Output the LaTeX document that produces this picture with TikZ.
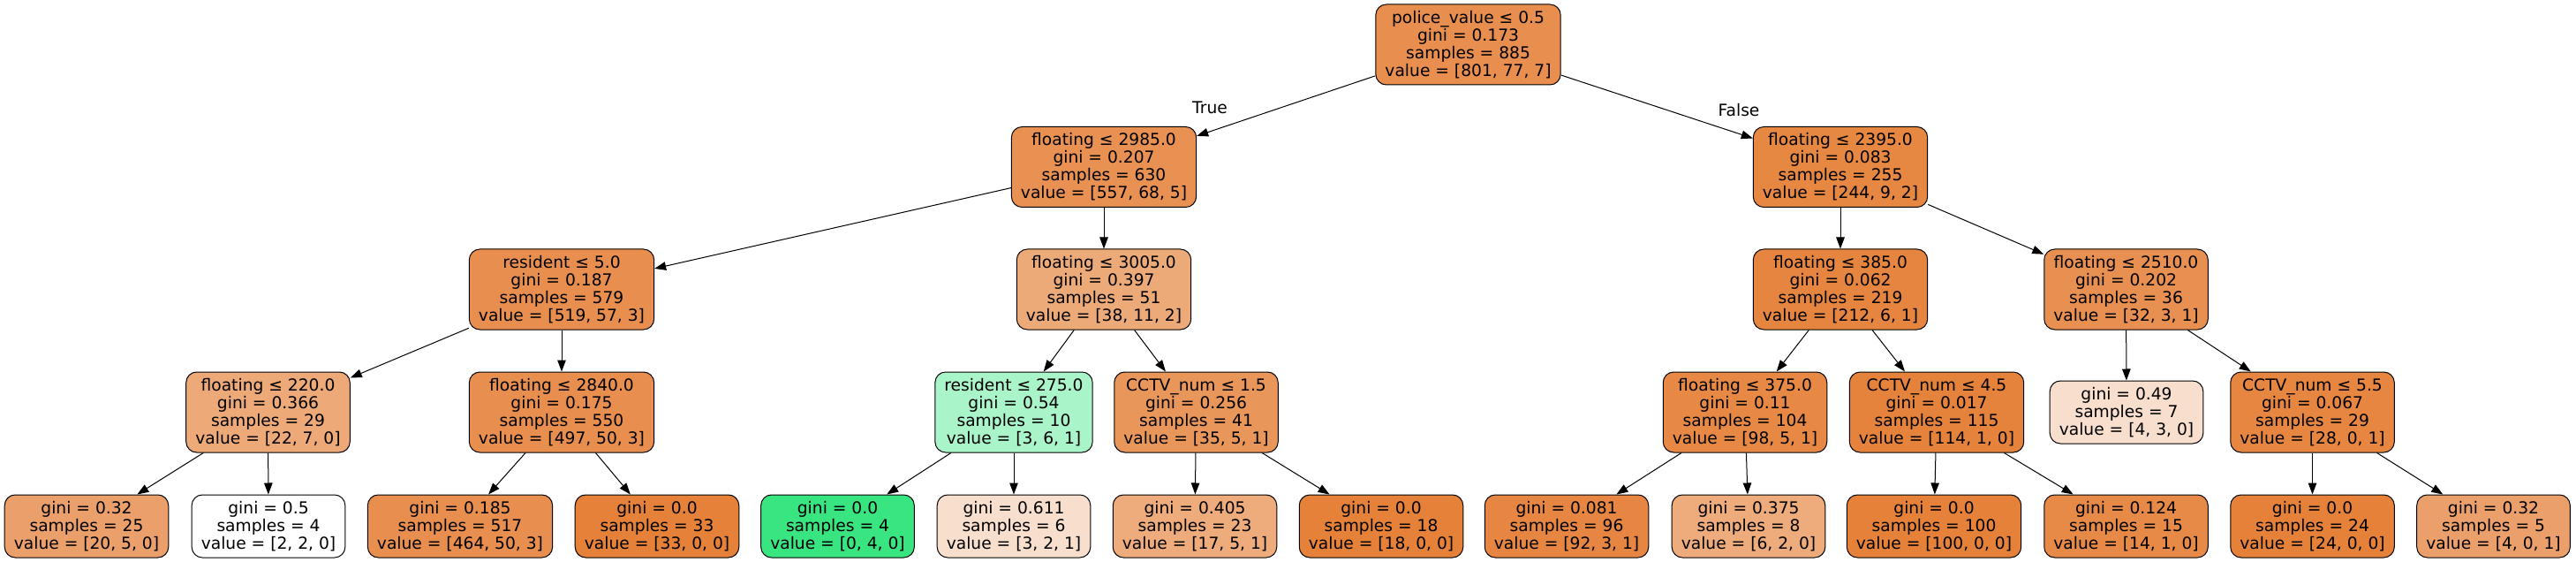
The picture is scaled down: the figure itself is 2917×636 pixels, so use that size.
\documentclass[tikz,border=0pt]{standalone}
\usepackage{fontspec}
\setmainfont{DejaVu Sans}
\usepackage{xcolor}
\usepackage{tikz}
\usetikzlibrary{arrows.meta}
\definecolor{classorange}{RGB}{229,129,57}
\definecolor{classgreen}{RGB}{57,229,129}

\begin{document}
\begin{tikzpicture}[x=1pt,y=-1pt,
    split/.style={draw,rounded corners=12pt,line width=1pt,align=center,
        inner xsep=10.6pt,inner ysep=5.3pt,minimum height=91pt,
        font=\fontsize{18.67pt}{20pt}\selectfont},
    leaf/.style={split,minimum height=71pt},
    edge/.style={line width=1pt,-{Triangle[length=13pt,width=9.5pt]}}]
                \useasboundingbox (0,0) rectangle (2917,636);
                % Level 0 and 1
                \node[split,fill=classorange!89.6!white] (n0) at (1662.5,50.5)
                    {police\_value ≤ 0.5\\gini = 0.173\\samples = 885\\value = [801, 77, 7]};
                \node[split,fill=classorange!87!white] (n1) at (1250,189)
                    {floating ≤ 2985.0\\gini = 0.207\\samples = 630\\value = [557, 68, 5]};
                \node[split,fill=classorange!95.5!white] (n16) at (2084,189)
                    {floating ≤ 2395.0\\gini = 0.083\\samples = 255\\value = [244, 9, 2]};
                % Level 2
                \node[split,fill=classorange!88.5!white] (n2) at (636,327.5)
                    {resident ≤ 5.0\\gini = 0.187\\samples = 579\\value = [519, 57, 3]};
                \node[split,fill=classorange!67.5!white] (n9) at (1250,327.5)
                    {floating ≤ 3005.0\\gini = 0.397\\samples = 51\\value = [38, 11, 2]};
                \node[split,fill=classorange!96.7!white] (n17) at (2084,327.5)
                    {floating ≤ 385.0\\gini = 0.062\\samples = 219\\value = [212, 6, 1]};
                \node[split,fill=classorange!87.9!white] (n24) at (2407.5,327.5)
                    {floating ≤ 2510.0\\gini = 0.202\\samples = 36\\value = [32, 3, 1]};
                % Level 3
                \node[split,fill=classorange!68.2!white] (n3) at (303.5,466.5)
                    {floating ≤ 220.0\\gini = 0.366\\samples = 29\\value = [22, 7, 0]};
                \node[split,fill=classorange!89.4!white] (n6) at (636,466.5)
                    {floating ≤ 2840.0\\gini = 0.175\\samples = 550\\value = [497, 50, 3]};
                \node[split,fill=classgreen!42.9!white] (n10) at (1148,466.5)
                    {resident ≤ 275.0\\gini = 0.54\\samples = 10\\value = [3, 6, 1]};
                \node[split,fill=classorange!83.3!white] (n13) at (1354.5,466.5)
                    {CCTV\_num ≤ 1.5\\gini = 0.256\\samples = 41\\value = [35, 5, 1]};
                \node[split,fill=classorange!93.9!white] (n18) at (1976,466.5)
                    {floating ≤ 375.0\\gini = 0.11\\samples = 104\\value = [98, 5, 1]};
                \node[split,fill=classorange!99.1!white] (n21) at (2193,466.5)
                    {CCTV\_num ≤ 4.5\\gini = 0.017\\samples = 115\\value = [114, 1, 0]};
                \node[leaf,fill=classorange!25!white] (n25) at (2408,466.5)
                    {gini = 0.49\\samples = 7\\value = [4, 3, 0]};
                \node[split,fill=classorange!96.4!white] (n26) at (2618.5,466.5)
                    {CCTV\_num ≤ 5.5\\gini = 0.067\\samples = 29\\value = [28, 0, 1]};
                % Leaves
                \node[leaf,fill=classorange!75!white] (n4) at (98,595.5)
                    {gini = 0.32\\samples = 25\\value = [20, 5, 0]};
                \node[leaf,fill=white] (n5) at (304,595.5)
                    {gini = 0.5\\samples = 4\\value = [2, 2, 0]};
                \node[leaf,fill=classorange!88.6!white] (n7) at (521,595.5)
                    {gini = 0.185\\samples = 517\\value = [464, 50, 3]};
                \node[leaf,fill=classorange] (n8) at (744,595.5)
                    {gini = 0.0\\samples = 33\\value = [33, 0, 0]};
                \node[leaf,fill=classgreen] (n11) at (948.5,595.5)
                    {gini = 0.0\\samples = 4\\value = [0, 4, 0]};
                \node[leaf,fill=classorange!25!white] (n12) at (1148,595.5)
                    {gini = 0.611\\samples = 6\\value = [3, 2, 1]};
                \node[leaf,fill=classorange!66.7!white] (n14) at (1353,595.5)
                    {gini = 0.405\\samples = 23\\value = [17, 5, 1]};
                \node[leaf,fill=classorange] (n15) at (1564,595.5)
                    {gini = 0.0\\samples = 18\\value = [18, 0, 0]};
                \node[leaf,fill=classorange!95.7!white] (n19) at (1774,595.5)
                    {gini = 0.081\\samples = 96\\value = [92, 3, 1]};
                \node[leaf,fill=classorange!66.7!white] (n20) at (1980,595.5)
                    {gini = 0.375\\samples = 8\\value = [6, 2, 0]};
                \node[leaf,fill=classorange] (n22) at (2190,595.5)
                    {gini = 0.0\\samples = 100\\value = [100, 0, 0]};
                \node[leaf,fill=classorange!92.9!white] (n23) at (2407.5,595.5)
                    {gini = 0.124\\samples = 15\\value = [14, 1, 0]};
                \node[leaf,fill=classorange] (n27) at (2618.5,595.5)
                    {gini = 0.0\\samples = 24\\value = [24, 0, 0]};
                \node[leaf,fill=classorange!75!white] (n28) at (2823.5,595.5)
                    {gini = 0.32\\samples = 5\\value = [4, 0, 1]};
                % Edges
                \foreach \a/\b in {n0/n1,n0/n16,n1/n2,n1/n9,n2/n3,n2/n6,n3/n4,n3/n5,
                    n6/n7,n6/n8,n9/n10,n9/n13,n10/n11,n10/n12,n13/n14,n13/n15,
                    n16/n17,n16/n24,n17/n18,n17/n21,n18/n19,n18/n20,n21/n22,n21/n23,
                    n24/n25,n24/n26,n26/n27,n26/n28}
                    \draw[edge] (\a) -- (\b);
                % Labels
                \node[font=\fontsize{18.67pt}{20pt}\selectfont] (truelbl) at (1370,122) {True};
                \node[font=\fontsize{18.67pt}{20pt}\selectfont] (falselbl) at (1969,125) {False};
\end{tikzpicture}
\end{document}
